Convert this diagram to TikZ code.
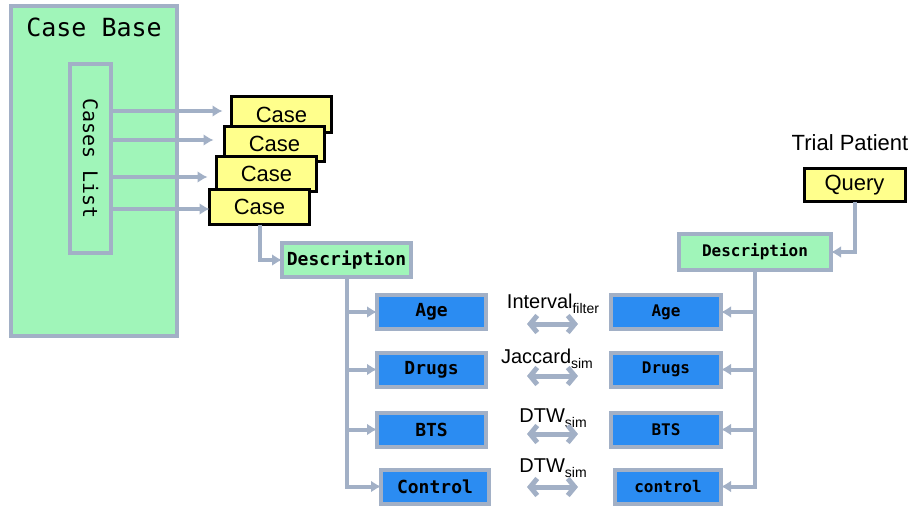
\documentclass[tikz,border=0pt]{standalone}
\usepackage{fontspec}
\setmainfont{Liberation Sans}
\newfontfamily\codefont{DejaVu Sans Mono}
\usetikzlibrary{arrows.meta}
\definecolor{edgegray}{HTML}{A2B0C6}
\definecolor{basegreen}{HTML}{A0F5B9}
\definecolor{caseyellow}{HTML}{FFFF8C}
\definecolor{fieldblue}{HTML}{2B8CF2}
\tikzset{
	frame/.style = {draw = edgegray, line width = 4pt, inner sep = 0pt, outer sep = 0pt},
	store/.style = {frame, fill = basegreen},
	header/.style = {store, font = \codefont\bfseries\fontsize{18}{18}\selectfont},
	case/.style = {draw = black, line width = 3pt, fill = caseyellow, inner sep = 0pt, outer sep = 0pt,
		minimum width = 100pt, minimum height = 35pt, font = \fontsize{22}{22}\selectfont},
	field/.style = {frame, fill = fieldblue, minimum width = 109pt, minimum height = 34pt,
		font = \codefont\bfseries\fontsize{18}{18}\selectfont},
	field right/.style = {field, font = \codefont\bfseries\fontsize{16}{16}\selectfont},
	link/.style = {draw = edgegray, line width = 4pt, -{Latex[length = 10pt, width = 12pt]}},
	sim/.style = {draw = edgegray, line width = 5pt,
		{Straight Barb[length = 7pt, width = 17pt]}-{Straight Barb[length = 7pt, width = 17pt]}},
	metric/.style = {anchor = base, inner sep = 0pt, font = \fontsize{20}{20}\selectfont}
}
\newcommand{\subtext}[1]{\raisebox{-5pt}{\fontsize{14}{14}\selectfont #1}}

\begin{document}
\begin{tikzpicture}[x = 1pt, y = -1pt]
	\useasboundingbox (0,0) rectangle (917,508);

	% case base
	\node (base) [store, minimum width = 166pt, minimum height = 330pt] at (94,171) {};
	\node (basetitle) [font = \codefont\fontsize{25}{25}\selectfont] at (94,27) {Case Base};
	\node (list) [store, minimum width = 41pt, minimum height = 188pt,
		font = \codefont\fontsize{20}{20}\selectfont] at (90.5,158.5) {\rotatebox{-90}{Cases List}};

	\node (case1) [case] at (281.5,114.5) {Case};
	\node (case2) [case] at (274.5,144) {Case};
	\node (case3) [case] at (266.5,174) {Case};
	\node (case4) [case] at (259.5,207) {Case};
	\draw [link, shorten >= 9pt] ([yshift = 3.5pt]list.east |- case1.west) -- ([yshift = 3.5pt]case1.west);
	\draw [link, shorten >= 11pt] ([yshift = 4pt]list.east |- case2.west) -- ([yshift = 4pt]case2.west);
	\draw [link, shorten >= 9pt] ([yshift = -3pt]list.east |- case3.west) -- ([yshift = -3pt]case3.west);
	\draw [link] ([yshift = -2pt]list.east |- case4.west) -- ([yshift = -2pt]case4.west);

	% stored case
	\node (desc1) [header, minimum width = 129pt, minimum height = 34pt] at (346.5,260) {Description};
	\draw [link] (case4.south) |- (desc1.west);
	\node (age1) [field] at (431.5,312) {Age};
	\node (drugs1) [field] at (431.5,369.5) {Drugs};
	\node (bts1) [field] at (431.5,429.5) {BTS};
	\node (control1) [field, minimum width = 108pt] at (435,486.5) {Control};
	\draw [link] (desc1.south) |- (age1.west);
	\draw [link] (desc1.south) |- (drugs1.west);
	\draw [link] (desc1.south) |- (bts1.west);
	\draw [link] (desc1.south) |- (control1.west);

	% query side
	\node (trial) [font = \fontsize{22}{22}\selectfont] at (850,143) {Trial Patient};
	\node (query) [case, minimum width = 101pt, minimum height = 33pt] at (854.5,185) {Query};
	\node (desc2) [header, minimum width = 152pt, minimum height = 36pt,
		font = \codefont\bfseries\fontsize{16}{16}\selectfont] at (755,252) {Description};
	\draw [link] (query.south) |- (desc2.east);
	\node (age2) [field right, minimum width = 110pt] at (666,312) {Age};
	\node (drugs2) [field right, minimum width = 110pt] at (666,369.5) {Drugs};
	\node (bts2) [field right, minimum width = 110pt] at (666,429.5) {BTS};
	\node (control2) [field right, minimum width = 106pt] at (668,486.5) {control};
	\draw [link] (desc2.south) |- (age2.east);
	\draw [link] (desc2.south) |- (drugs2.east);
	\draw [link] (desc2.south) |- (bts2.east);
	\draw [link] (desc2.south) |- (control2.east);

	% similarity measures
	\node (metric1) [metric] at (553,308) {Interval\subtext{filter}};
	\node (metric2) [metric] at (547,363) {Jaccard\subtext{sim}};
	\node (metric3) [metric] at (553,422) {DTW\subtext{sim}};
	\node (metric4) [metric] at (553,472) {DTW\subtext{sim}};
	\coordinate (sim1a) at (527,324);  \coordinate (sim1b) at (578,324);
	\coordinate (sim2a) at (527,376);  \coordinate (sim2b) at (578,376);
	\coordinate (sim3a) at (527,434);  \coordinate (sim3b) at (578,434);
	\coordinate (sim4a) at (527,487);  \coordinate (sim4b) at (578,487);
	\draw [sim] (sim1a) -- (sim1b);
	\draw [sim] (sim2a) -- (sim2b);
	\draw [sim] (sim3a) -- (sim3b);
	\draw [sim] (sim4a) -- (sim4b);
\end{tikzpicture}
\end{document}
